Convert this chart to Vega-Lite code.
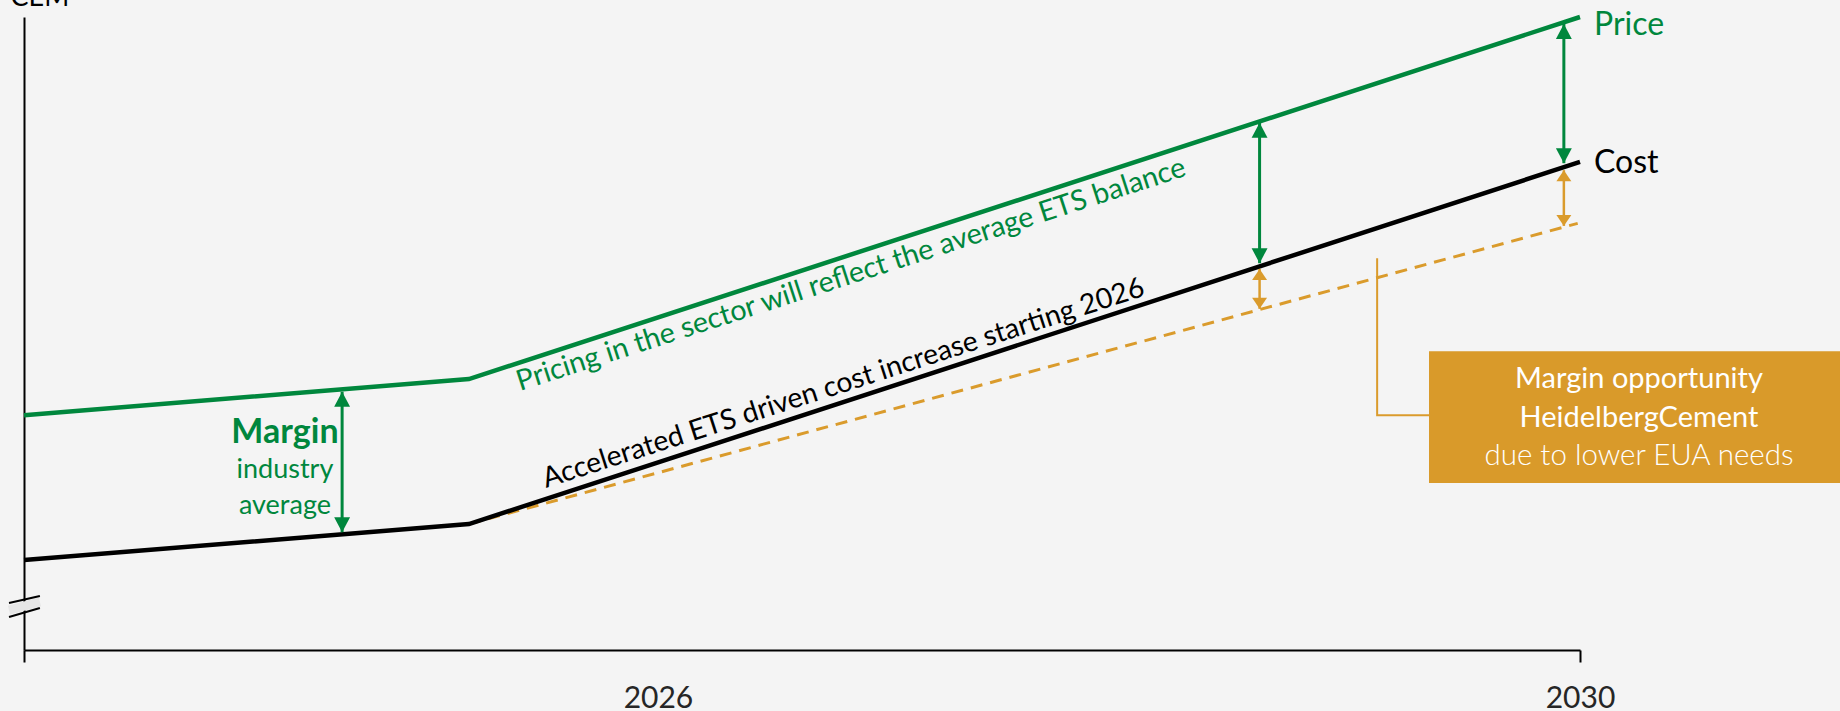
{
  "$schema": "https://vega.github.io/schema/vega-lite/v6.json",
  "autosize": "none",
  "width": 1556,
  "height": 633,
  "padding": {"left": 24, "top": 17, "right": 260, "bottom": 61},
  "background": "#f4f4f4",
  "config": {"view": {"stroke": null}, "font": "Lato"},
  "datasets": {
    "lines": [
      {"series": "Price", "year": 2023.25, "value": 37.1},
      {"series": "Price", "year": 2025.18, "value": 42.8},
      {"series": "Price", "year": 2030, "value": 100},
      {"series": "Cost", "year": 2023.25, "value": 14.2},
      {"series": "Cost", "year": 2025.18, "value": 19.9},
      {"series": "Cost", "year": 2030, "value": 77.1},
      {"series": "Cost HeidelbergCement", "year": 2025.18, "value": 19.9},
      {"series": "Cost HeidelbergCement", "year": 2029.99, "value": 67.4}
    ],
    "arrows": [
      {"gap": "Industry margin", "year": 2024.63, "lo": 18.6, "hi": 40.8},
      {"gap": "Industry margin", "year": 2028.61, "lo": 61.1, "hi": 83.3},
      {"gap": "Industry margin", "year": 2029.93, "lo": 76.9, "hi": 98.9},
      {"gap": "HeidelbergCement advantage", "year": 2028.61, "lo": 53.9, "hi": 60.2},
      {"gap": "HeidelbergCement advantage", "year": 2029.93, "lo": 67.0, "hi": 75.8}
    ]
  },
  "layer": [
    {
      "data": {"values": [{"x1": 2023.185, "y1": 6.3, "x2": 2023.319, "y2": 7.6}]},
      "mark": {"type": "rule", "stroke": "#e6e6e6", "strokeWidth": 9},
      "encoding": {
        "x": {"field": "x1", "type": "quantitative", "scale": {"domain": [2023.25, 2030], "nice": false, "zero": false},
              "axis": {"values": [2023.25, 2026, 2030], "format": "d",
                       "labelExpr": "datum.value == 2026 || datum.value == 2030 ? datum.label : ''",
                       "title": null, "grid": false, "domainColor": "#000000", "domainWidth": 2,
                       "tickColor": "#000000", "tickWidth": 2, "tickSize": 12,
                       "tickOpacity": {"condition": {"test": "datum.value == 2026", "value": 0}, "value": 1},
                       "labelFont": "Lato", "labelFontSize": 30, "labelColor": "#262626",
                       "labelPadding": 21, "labelFlush": false, "labelOverlap": false, "labelBound": false}},
        "y": {"field": "y1", "type": "quantitative", "scale": {"domain": [0, 100], "nice": false, "zero": false},
              "axis": {"title": "CEM", "titleAngle": 0, "titleAlign": "left", "titleBaseline": "alphabetic",
                       "titleX": -14, "titleY": -12, "titleFont": "Lato", "titleFontSize": 27,
                       "titleFontWeight": "normal", "titleColor": "#000000",
                       "labels": false, "ticks": false, "grid": false,
                       "domainColor": "#000000", "domainWidth": 2}},
        "x2": {"field": "x2"},
        "y2": {"field": "y2"}
      }
    },
    {
      "data": {"values": [
        {"x1": 2023.185, "y1": 7.42, "x2": 2023.319, "y2": 8.53},
        {"x1": 2023.185, "y1": 5.21, "x2": 2023.319, "y2": 6.64}
      ]},
      "mark": {"type": "rule", "stroke": "#000000", "strokeWidth": 2},
      "encoding": {
        "x": {"field": "x1", "type": "quantitative"},
        "y": {"field": "y1", "type": "quantitative"},
        "x2": {"field": "x2"},
        "y2": {"field": "y2"}
      }
    },
    {
      "data": {"name": "lines"},
      "transform": [{"filter": "datum.series == 'Cost HeidelbergCement'"}],
      "mark": {"type": "line", "stroke": "#DA9B2C", "strokeWidth": 3, "strokeDash": [12, 8]},
      "encoding": {
        "x": {"field": "year", "type": "quantitative"},
        "y": {"field": "value", "type": "quantitative"}
      }
    },
    {
      "data": {"name": "lines"},
      "transform": [{"filter": "datum.series == 'Cost'"}],
      "mark": {"type": "line", "stroke": "#000000", "strokeWidth": 4.5},
      "encoding": {
        "x": {"field": "year", "type": "quantitative"},
        "y": {"field": "value", "type": "quantitative"}
      }
    },
    {
      "data": {"name": "lines"},
      "transform": [{"filter": "datum.series == 'Price'"}],
      "mark": {"type": "line", "stroke": "#00873D", "strokeWidth": 4.5},
      "encoding": {
        "x": {"field": "year", "type": "quantitative"},
        "y": {"field": "value", "type": "quantitative"}
      }
    },
    {
      "data": {"name": "arrows"},
      "transform": [{"filter": "datum.gap == 'Industry margin'"}],
      "mark": {"type": "rule", "stroke": "#00873D", "strokeWidth": 3},
      "encoding": {
        "x": {"field": "year", "type": "quantitative"},
        "y": {"field": "lo", "type": "quantitative"},
        "y2": {"field": "hi"}
      }
    },
    {
      "data": {"name": "arrows"},
      "transform": [{"filter": "datum.gap == 'Industry margin'"}],
      "mark": {"type": "point", "shape": "M0,0L0.53,1L-0.53,1Z", "size": 900, "filled": true, "fill": "#00873D", "opacity": 1, "strokeWidth": 0},
      "encoding": {
        "x": {"field": "year", "type": "quantitative"},
        "y": {"field": "hi", "type": "quantitative"}
      }
    },
    {
      "data": {"name": "arrows"},
      "transform": [{"filter": "datum.gap == 'Industry margin'"}],
      "mark": {"type": "point", "shape": "M0,0L0.53,-1L-0.53,-1Z", "size": 900, "filled": true, "fill": "#00873D", "opacity": 1, "strokeWidth": 0},
      "encoding": {
        "x": {"field": "year", "type": "quantitative"},
        "y": {"field": "lo", "type": "quantitative"}
      }
    },
    {
      "data": {"name": "arrows"},
      "transform": [{"filter": "datum.gap == 'HeidelbergCement advantage'"}],
      "mark": {"type": "rule", "stroke": "#DA9B2C", "strokeWidth": 2.5},
      "encoding": {
        "x": {"field": "year", "type": "quantitative"},
        "y": {"field": "lo", "type": "quantitative"},
        "y2": {"field": "hi"}
      }
    },
    {
      "data": {"name": "arrows"},
      "transform": [{"filter": "datum.gap == 'HeidelbergCement advantage'"}],
      "mark": {"type": "point", "shape": "M0,0L0.68,1L-0.68,1Z", "size": 484, "filled": true, "fill": "#DA9B2C", "opacity": 1, "strokeWidth": 0},
      "encoding": {
        "x": {"field": "year", "type": "quantitative"},
        "y": {"field": "hi", "type": "quantitative"}
      }
    },
    {
      "data": {"name": "arrows"},
      "transform": [{"filter": "datum.gap == 'HeidelbergCement advantage'"}],
      "mark": {"type": "point", "shape": "M0,0L0.68,-1L-0.68,-1Z", "size": 484, "filled": true, "fill": "#DA9B2C", "opacity": 1, "strokeWidth": 0},
      "encoding": {
        "x": {"field": "year", "type": "quantitative"},
        "y": {"field": "lo", "type": "quantitative"}
      }
    },
    {
      "data": {"values": [
        {"step": 1, "year": 2029.12, "value": 61.9},
        {"step": 2, "year": 2029.12, "value": 37.1},
        {"step": 3, "year": 2029.345, "value": 37.1}
      ]},
      "mark": {"type": "line", "stroke": "#DA9B2C", "strokeWidth": 2},
      "encoding": {
        "x": {"field": "year", "type": "quantitative"},
        "y": {"field": "value", "type": "quantitative"},
        "order": {"field": "step"}
      }
    },
    {
      "data": {"values": [{"x1": 2029.345, "x2": 2031.13, "y1": 26.4, "y2": 47.2}]},
      "mark": {"type": "rect", "fill": "#D99A2A"},
      "encoding": {
        "x": {"field": "x1", "type": "quantitative"},
        "x2": {"field": "x2"},
        "y": {"field": "y1", "type": "quantitative"},
        "y2": {"field": "y2"}
      }
    },
    {
      "data": {"values": [
        {"text": "Margin opportunity", "year": 2030.256, "value": 41.39},
        {"text": "HeidelbergCement", "year": 2030.256, "value": 35.23}
      ]},
      "mark": {"type": "text", "font": "Lato", "fontSize": 29, "color": "#ffffff", "align": "center", "baseline": "alphabetic"},
      "encoding": {
        "x": {"field": "year", "type": "quantitative"},
        "y": {"field": "value", "type": "quantitative"},
        "text": {"field": "text"}
      }
    },
    {
      "data": {"values": [{"text": "due to lower EUA needs", "year": 2030.256, "value": 29.23}]},
      "mark": {"type": "text", "font": "Lato", "fontSize": 29.5, "fontWeight": 300, "color": "#ffffff", "align": "center", "baseline": "alphabetic"},
      "encoding": {
        "x": {"field": "year", "type": "quantitative"},
        "y": {"field": "value", "type": "quantitative"},
        "text": {"field": "text"}
      }
    },
    {
      "data": {"values": [{"text": "Price", "year": 2030.061, "value": 97.16}]},
      "mark": {"type": "text", "font": "Lato", "fontSize": 32, "color": "#00873D", "align": "left", "baseline": "alphabetic"},
      "encoding": {
        "x": {"field": "year", "type": "quantitative"},
        "y": {"field": "value", "type": "quantitative"},
        "text": {"field": "text"}
      }
    },
    {
      "data": {"values": [{"text": "Cost", "year": 2030.061, "value": 75.36}]},
      "mark": {"type": "text", "font": "Lato", "fontSize": 32, "color": "#000000", "align": "left", "baseline": "alphabetic"},
      "encoding": {
        "x": {"field": "year", "type": "quantitative"},
        "y": {"field": "value", "type": "quantitative"},
        "text": {"field": "text"}
      }
    },
    {
      "data": {"values": [{"text": "Margin", "year": 2024.382, "value": 32.7}]},
      "mark": {"type": "text", "font": "Lato", "fontSize": 34, "fontWeight": "bold", "color": "#00873D", "align": "center", "baseline": "alphabetic"},
      "encoding": {
        "x": {"field": "year", "type": "quantitative"},
        "y": {"field": "value", "type": "quantitative"},
        "text": {"field": "text"}
      }
    },
    {
      "data": {"values": [
        {"text": "industry", "year": 2024.382, "value": 27.17},
        {"text": "average", "year": 2024.382, "value": 21.48}
      ]},
      "mark": {"type": "text", "font": "Lato", "fontSize": 27, "color": "#00873D", "align": "center", "baseline": "alphabetic"},
      "encoding": {
        "x": {"field": "year", "type": "quantitative"},
        "y": {"field": "value", "type": "quantitative"},
        "text": {"field": "text"}
      }
    },
    {
      "data": {"values": [{"text": "Pricing in the sector will reflect the average ETS balance", "year": 2025.402, "value": 40.92}]},
      "mark": {"type": "text", "font": "Lato", "fontSize": 28.7, "color": "#00873D", "align": "left", "baseline": "alphabetic", "angle": -17.9},
      "encoding": {
        "x": {"field": "year", "type": "quantitative"},
        "y": {"field": "value", "type": "quantitative"},
        "text": {"field": "text"}
      }
    },
    {
      "data": {"values": [{"text": "Accelerated ETS driven cost increase starting 2026", "year": 2025.514, "value": 25.59}]},
      "mark": {"type": "text", "font": "Lato", "fontSize": 28.3, "color": "#000000", "align": "left", "baseline": "alphabetic", "angle": -17.8},
      "encoding": {
        "x": {"field": "year", "type": "quantitative"},
        "y": {"field": "value", "type": "quantitative"},
        "text": {"field": "text"}
      }
    }
  ]
}
